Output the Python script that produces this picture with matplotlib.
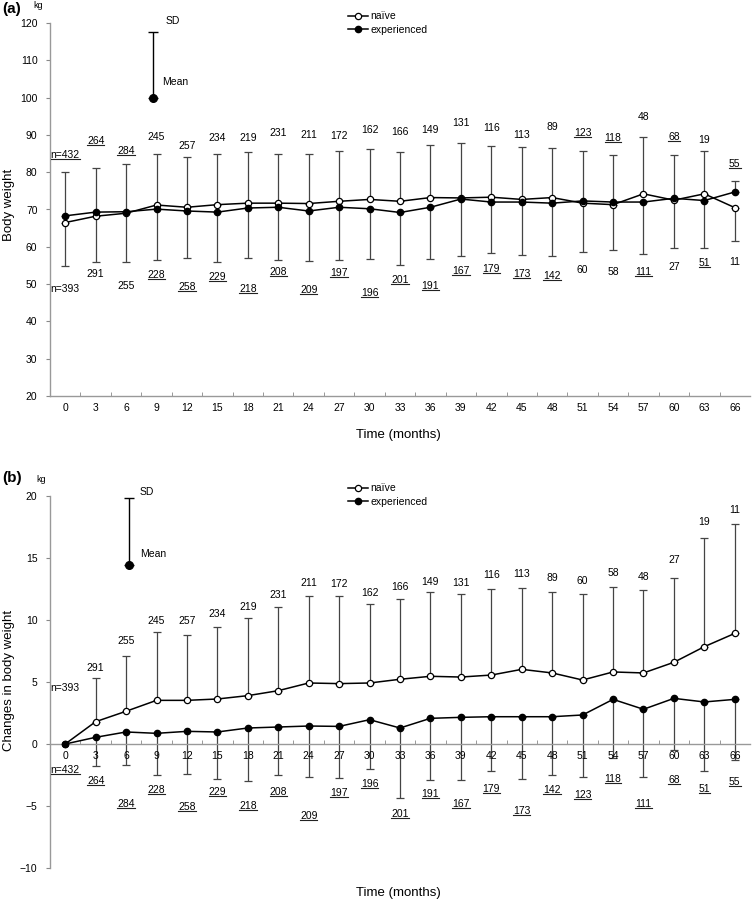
import numpy as np
import matplotlib.pyplot as plt
from matplotlib.lines import Line2D
from matplotlib.transforms import IdentityTransform

plt.rcParams['font.family'] = ['Liberation Sans', 'DejaVu Sans']

# time points (months)
months = [0, 3, 6, 9, 12, 15, 18, 21, 24, 27, 30, 33, 36, 39, 42, 45, 48, 51, 54, 57, 60, 63, 66]

# number of patients
n_naive = [393, 291, 255, 245, 257, 234, 219, 231, 211, 172, 162, 166, 149, 131, 116, 113, 89, 60, 58, 48, 27, 19, 11]
n_exp = [432, 264, 284, 228, 258, 229, 218, 208, 209, 197, 196, 201, 191, 167, 179, 173, 142, 123, 118, 111, 68, 51, 55]

# (a) body weight, mean and SD
bw_naive = [66.5, 68.2, 69.0, 71.2, 70.6, 71.3, 71.7, 71.7, 71.6, 72.2, 72.7, 72.2, 73.2, 73.1, 73.3, 72.7, 73.2, 71.7, 71.3, 74.2, 72.5, 74.2, 70.5]
bw_exp = [68.3, 69.3, 69.4, 70.1, 69.6, 69.3, 70.4, 70.6, 69.6, 70.6, 70.2, 69.2, 70.6, 72.8, 72.0, 72.0, 71.7, 72.3, 72.0, 72.0, 73.0, 72.4, 74.7]
bw_sd_naive = [11.6, 12.2, 13.2, 13.7, 13.4, 13.5, 13.6, 13.3, 13.4, 13.5, 13.4, 13.3, 14.1, 14.6, 13.8, 14.0, 13.4, 13.0, 12.2, 15.2, 12.7, 11.4, 9.0]
bw_sd_exp = [11.8, 11.7, 12.7, 13.6, 12.5, 13.5, 13.3, 14.1, 13.3, 14.1, 13.5, 14.0, 13.9, 15.4, 13.7, 14.3, 14.2, 13.3, 12.5, 14.0, 11.7, 12.8, 2.9]

# (b) change in body weight, mean and SD
ch_naive = [0, 1.80, 2.64, 3.52, 3.52, 3.63, 3.90, 4.30, 4.92, 4.87, 4.92, 5.22, 5.46, 5.40, 5.56, 6.02, 5.73, 5.16, 5.81, 5.73, 6.59, 7.85, 8.92]
ch_exp = [0, 0.54, 0.97, 0.86, 1.02, 0.97, 1.29, 1.37, 1.45, 1.42, 1.96, 1.29, 2.07, 2.15, 2.20, 2.20, 2.20, 2.34, 3.60, 2.80, 3.68, 3.39, 3.60]
ch_sd_naive = [0, 3.55, 4.48, 5.54, 5.24, 5.83, 6.23, 6.72, 7.02, 7.10, 6.34, 6.50, 6.82, 6.70, 6.91, 6.58, 6.55, 6.91, 6.82, 6.66, 6.80, 8.74, 8.85]
ch_sd_exp = [0, 2.29, 2.66, 3.36, 3.41, 3.82, 4.27, 3.90, 4.08, 4.19, 3.95, 5.67, 4.97, 5.05, 4.38, 5.02, 4.73, 4.97, 4.70, 5.43, 4.20, 5.54, 4.89]

# where the n labels sit (data units)
lab_top_a = [84.6, 88.4, 85.7, 89.5, 87.0, 89.3, 89.2, 90.4, 90.0, 89.7, 91.3, 90.7, 91.4, 93.3, 91.9, 89.9, 92.2, 90.4, 89.1, 94.7, 89.4, 88.6, 82.1]
lab_bot_a = [48.7, 52.7, 49.5, 52.4, 49.2, 51.9, 48.8, 53.2, 48.4, 52.9, 47.5, 51.1, 49.5, 53.4, 54.0, 52.7, 52.3, 53.8, 53.3, 53.3, 54.7, 55.7, 56.0]
lab_top_b = [4.5, 6.15, 8.3, 9.9, 9.9, 10.5, 11.07, 12.04, 12.96, 12.93, 12.2, 12.66, 13.06, 12.96, 13.63, 13.74, 13.4, 13.17, 13.79, 13.5, 14.84, 17.93, 18.9]
lab_bot_b = [-2.1, -3.0, -4.84, -3.68, -5.08, -3.9, -4.97, -3.9, -5.83, -3.95, -3.25, -5.62, -4.06, -4.8, -3.66, -5.38, -3.71, -4.11, -2.85, -4.84, -2.9, -3.6, -3.04]

W, H = 752, 900
fig = plt.figure(figsize=(W / 100, H / 100), dpi=100)
ax_a = fig.add_axes([50 / W, (H - 396) / H, 700 / W, (396 - 23) / H])
ax_b = fig.add_axes([50 / W, (H - 868) / H, 700 / W, (868 - 496) / H])

idx = np.arange(len(months))
underlined = []
bar_color = '#444444'


def sd_bars(ax, y, lo, hi):
    # only draw the bars that have a length
    keep = (lo + hi) > 0
    ax.errorbar(idx[keep], y[keep], yerr=[lo[keep], hi[keep]], fmt='none', ecolor=bar_color,
                elinewidth=0.9, capsize=3, capthick=0.9, zorder=1)


def draw_panel(ax, naive, exp, sd_n, sd_e, top_y, bot_y):
    naive = np.array(naive)
    exp = np.array(exp)
    sd_n = np.array(sd_n)
    sd_e = np.array(sd_e)
    up = naive >= exp   # the higher group gets its SD drawn upwards

    sd_bars(ax, naive, np.where(up, 0, sd_n), np.where(up, sd_n, 0))
    sd_bars(ax, exp, np.where(up, sd_e, 0), np.where(up, 0, sd_e))
    ax.plot(idx, naive, '-o', color='k', lw=1.1, ms=4.5, mfc='white', mec='k', mew=0.9,
            label='naïve', zorder=3)
    ax.plot(idx, exp, '-o', color='k', lw=1.1, ms=4.5, mfc='k', mec='k',
            label='experienced', zorder=3)

    for i in idx:
        if up[i]:
            top_txt, top_u, bot_txt, bot_u = n_naive[i], False, n_exp[i], True
        else:
            top_txt, top_u, bot_txt, bot_u = n_exp[i], True, n_naive[i], False
        pre = 'n=' if i == 0 else ''
        t1 = ax.text(i, top_y[i], pre + str(top_txt), ha='center', va='center', fontsize=7.5, zorder=4)
        t2 = ax.text(i, bot_y[i], pre + str(bot_txt), ha='center', va='center', fontsize=7.5, zorder=4)
        if top_u:
            underlined.append(t1)
        if bot_u:
            underlined.append(t2)

    ax.set_xlim(-0.5, len(months) - 0.5)
    for s in ['top', 'right']:
        ax.spines[s].set_visible(False)
    for s in ['left', 'bottom']:
        ax.spines[s].set_color('#999999')
        ax.spines[s].set_linewidth(1.0)

    ax.legend(loc='upper left', bbox_to_anchor=(0.39, 1.0), frameon=False, fontsize=7.5,
              handlelength=1.9, handletextpad=0.2, borderpad=0, labelspacing=0.35)


def set_ticks(ax):
    ax.set_xticks(idx)
    ax.set_xticklabels(months)
    ax.set_xticks(idx[:-1] + 0.5, minor=True)
    ax.tick_params(axis='x', which='major', length=0, pad=5, labelsize=7.5)
    ax.tick_params(axis='x', which='minor', length=3, direction='in', color='#888888')
    ax.tick_params(axis='y', length=3, direction='out', labelsize=7.5, color='#888888', pad=6)


# (a)
draw_panel(ax_a, bw_naive, bw_exp, bw_sd_naive, bw_sd_exp, lab_top_a, lab_bot_a)
ax_a.set_ylim(20, 120)
ax_a.set_yticks(np.arange(20, 121, 10))
set_ticks(ax_a)
ax_a.get_legend().set_bbox_to_anchor((343 / W, 1 - 6 / H), transform=fig.transFigure)

# mean / SD key
ax_a.errorbar([2.87], [100], yerr=[[0], [17.7]], fmt='o', color='k', ms=5.5, ecolor='k',
              elinewidth=1.0, capsize=3.5, capthick=1.0)
ax_a.text(3.3, 120.5, 'SD', fontsize=7.5, va='center')
ax_a.text(3.2, 104.3, 'Mean', fontsize=7.5, va='center')

# (b)
draw_panel(ax_b, ch_naive, ch_exp, ch_sd_naive, ch_sd_exp, lab_top_b, lab_bot_b)
ax_b.set_ylim(-10, 20)
ax_b.set_yticks(np.arange(-10, 21, 5))
ax_b.spines['bottom'].set_position(('data', 0))
set_ticks(ax_b)
ax_b.get_legend().set_bbox_to_anchor((343 / W, 1 - 478 / H), transform=fig.transFigure)

ax_b.errorbar([2.1], [14.4], yerr=[[0], [5.4]], fmt='o', color='k', ms=5.5, ecolor='k',
              elinewidth=1.0, capsize=3.5, capthick=1.0)
ax_b.text(2.45, 20.3, 'SD', fontsize=7.5, va='center')
ax_b.text(2.45, 15.3, 'Mean', fontsize=7.5, va='center')

# labels outside the axes
fig.text(2 / W, 1 - 9 / H, '(a)', fontsize=11, fontweight='bold', va='center')
fig.text(33 / W, 1 - 5 / H, 'kg', fontsize=6.5, va='center')
fig.text(2 / W, 1 - 478 / H, '(b)', fontsize=11, fontweight='bold', va='center')
fig.text(36 / W, 1 - 479 / H, 'kg', fontsize=6.5, va='center')
fig.text(9 / W, 1 - 205 / H, 'Body weight', fontsize=9.5, rotation=90, ha='center', va='center')
fig.text(9 / W, 1 - 680 / H, 'Changes in body weight', fontsize=9.5, rotation=90, ha='center', va='center')
fig.text(398 / W, 1 - 435 / H, 'Time (months)', fontsize=9.5, ha='center', va='center')
fig.text(398 / W, 1 - 893 / H, 'Time (months)', fontsize=9.5, ha='center', va='center')

# underline the experienced-group counts
fig.canvas.draw()
renderer = fig.canvas.get_renderer()
for t in underlined:
    bb = t.get_window_extent(renderer)
    yline = bb.y0 + 1.0
    fig.add_artist(Line2D([bb.x0, bb.x1], [yline, yline], transform=IdentityTransform(),
                          color='#222222', lw=0.8))

fig.savefig('out.png', dpi=100)
